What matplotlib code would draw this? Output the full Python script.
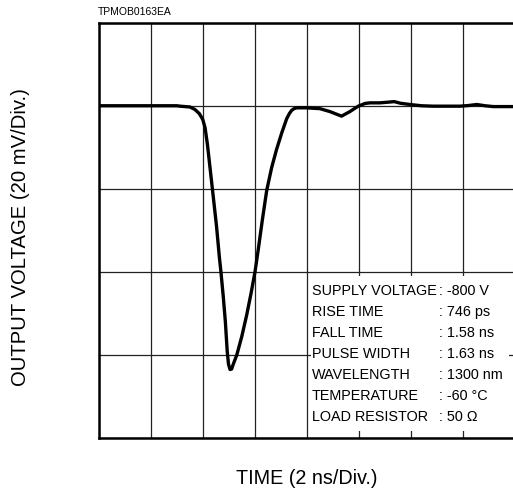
import matplotlib
matplotlib.use("Agg")
import matplotlib.pyplot as plt
from matplotlib.patches import Rectangle

plt.rcParams['font.family'] = ['Liberation Sans', 'DejaVu Sans']

# Data: time in ns (2 ns/div), output voltage in mV (20 mV/div)
time_ns = [0.0, 3.0, 3.12, 3.50, 3.69, 3.86, 3.99, 4.08, 4.17, 4.27, 4.40,
           4.52, 4.63, 4.69, 4.78, 4.86, 4.93, 4.98, 5.04, 5.10, 5.16, 5.30,
           5.49, 5.68, 5.85, 6.0, 6.13, 6.28, 6.45, 6.64, 6.83, 7.03, 7.22,
           7.32, 7.41, 7.50, 7.60, 7.98, 8.5, 8.88, 9.33, 9.65, 9.97, 10.23,
           10.42, 10.8, 11.19, 11.35, 11.6, 11.96, 12.4, 12.86, 13.88, 14.2,
           14.53, 14.85, 15.17, 16.0]
voltage_mv = [0.0, 0.0, -0.1, -0.3, -0.9, -1.9, -3.3, -5.3, -9.3, -14.9,
              -22.2, -29.0, -36.5, -40.0, -46.0, -52.0, -59.0, -62.2, -63.5,
              -63.4, -62.3, -60.0, -55.6, -50.4, -45.1, -40.0, -34.4, -27.6,
              -20.4, -14.9, -10.5, -6.5, -3.1, -1.9, -1.1, -0.7, -0.5, -0.5,
              -0.7, -1.4, -2.5, -1.4, -0.1, 0.55, 0.7, 0.7, 0.9, 1.0, 0.6,
              0.3, 0.0, -0.1, -0.1, 0.05, 0.3, 0.0, -0.2, -0.2]

x_ticks = [0, 2, 4, 6, 8, 10, 12, 14, 16]
y_ticks = [-80, -60, -40, -20, 0, 20]

info_labels = ["SUPPLY VOLTAGE", "RISE TIME", "FALL TIME", "PULSE WIDTH",
               "WAVELENGTH", "TEMPERATURE", "LOAD RESISTOR"]
info_values = [": -800 V", ": 746 ps", ": 1.58 ns", ": 1.63 ns",
               ": 1300 nm", ": -60 °C", ": 50 Ω"]

W, H = 513, 490
fig = plt.figure(figsize=(W / 100, H / 100), dpi=100)
ax = fig.add_axes([99 / W, (H - 438) / H, 416 / W, 415.3 / H])

ax.set_xlim(x_ticks[0], x_ticks[-1])
ax.set_ylim(y_ticks[0], y_ticks[-1])
ax.set_xticks(x_ticks)
ax.set_yticks(y_ticks)
ax.tick_params(length=0, labelbottom=False, labelleft=False)
ax.set_axisbelow(True)
ax.grid(True, color='#222222', linewidth=0.9)
for s in ax.spines.values():
    s.set_linewidth(1.8)
    s.set_color('black')

ax.plot(time_ns, voltage_mv, color='black', linewidth=2.4,
        solid_capstyle='round', solid_joinstyle='round', zorder=3)

# white info box
ax.add_patch(Rectangle((8.16, -78.3), 7.6, 37.3, facecolor='white',
                       edgecolor='none', zorder=1.5))
y0, dy = -44.5, 5.08
for i, (lab, val) in enumerate(zip(info_labels, info_values)):
    y = y0 - i * dy
    ax.text(8.19, y, lab, fontsize=10.4, va='center', ha='left', zorder=4)
    ax.text(13.08, y, val, fontsize=10.4, va='center', ha='left', zorder=4)

fig.text(98 / W, 1 - 12 / H, "TPMOB0163EA", fontsize=7.5, ha='left',
         va='center')
fig.text(21 / W, 1 - 237 / H, "OUTPUT VOLTAGE (20 mV/Div.)", fontsize=14.6,
         rotation=90, ha='center', va='center')
fig.text(307 / W, 1 - 478 / H, "TIME (2 ns/Div.)", fontsize=14.2,
         ha='center', va='center')

fig.savefig("out.png", dpi=100)
